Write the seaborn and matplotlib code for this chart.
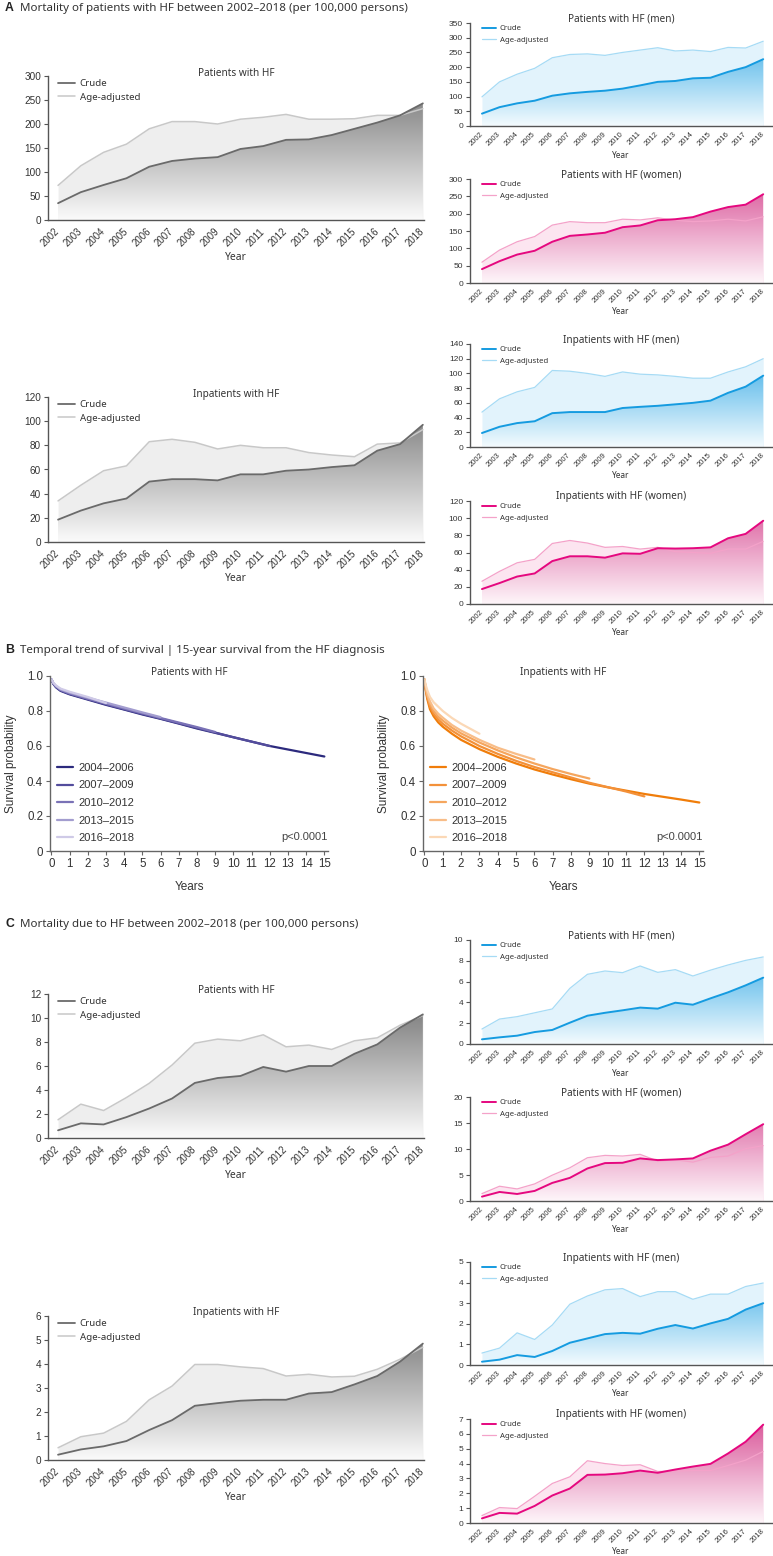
import numpy as np
import pandas as pd
import matplotlib
matplotlib.use("Agg")
import matplotlib.pyplot as plt
import seaborn as sns
from matplotlib.colors import LinearSegmentedColormap
from matplotlib.transforms import offset_copy

# ---------------- DATA ----------------
years = list(range(2002, 2019))
year_labels = [str(y) for y in years]

# A: mortality of patients with HF (per 100,000)
a_pat_crude = [35, 58, 73, 87, 111, 123, 128, 131, 148, 154, 167, 168, 177, 190, 203, 218, 243]
a_pat_adj = [72, 113, 141, 158, 190, 205, 205, 200, 210, 214, 220, 210, 210, 211, 218, 218, 232]
a_pat_men_crude = [42, 64, 77, 86, 103, 111, 116, 120, 127, 138, 150, 153, 162, 164, 184, 200, 227]
a_pat_men_adj = [99, 150, 176, 196, 232, 243, 245, 240, 250, 258, 266, 255, 258, 253, 267, 265, 288]
a_pat_women_crude = [40, 63, 82, 93, 119, 136, 140, 145, 161, 166, 181, 184, 190, 206, 219, 226, 256]
a_pat_women_adj = [60, 95, 119, 134, 167, 177, 174, 174, 184, 182, 188, 181, 177, 179, 184, 179, 191]
a_inp_crude = [18.5, 26, 32, 36, 50, 52, 52, 51, 56, 56, 59, 60, 62, 63.5, 75.6, 81, 97]
a_inp_adj = [34, 47, 59, 63, 83, 85, 82.5, 77, 80, 78, 78, 74, 72, 70.6, 81, 82, 93]
a_inp_men_crude = [19, 27.5, 32.5, 35, 46, 47.5, 47.5, 47.5, 53, 54.6, 56, 58, 60, 63, 73.6, 82, 97]
a_inp_men_adj = [47.4, 65.5, 75, 81, 104, 103, 100, 96, 102, 99, 98, 96, 93.5, 93.5, 102, 109, 120]
a_inp_women_crude = [17.4, 24.4, 32, 35.6, 50, 55.6, 55.6, 54, 59, 58.5, 65, 64.6, 65, 66, 76.6, 81.7, 97]
a_inp_women_adj = [26.5, 38, 48, 52, 70.5, 74, 71, 66, 67, 64, 66, 61, 60, 59, 64, 64, 73]

# C: mortality due to HF (per 100,000)
c_pat_crude = [0.64, 1.22, 1.13, 1.74, 2.46, 3.29, 4.59, 5.0, 5.17, 5.92, 5.53, 6.0, 6.0, 7.02, 7.8, 9.2, 10.3]
c_pat_adj = [1.52, 2.82, 2.29, 3.37, 4.56, 6.08, 7.9, 8.24, 8.1, 8.6, 7.6, 7.74, 7.38, 8.1, 8.35, 9.4, 10.2]
c_pat_men_crude = [0.45, 0.64, 0.8, 1.15, 1.35, 2.05, 2.72, 3.0, 3.24, 3.5, 3.4, 3.97, 3.78, 4.39, 4.97, 5.64, 6.38]
c_pat_men_adj = [1.44, 2.4, 2.63, 3.0, 3.37, 5.35, 6.7, 7.02, 6.86, 7.5, 6.89, 7.15, 6.54, 7.1, 7.6, 8.04, 8.37]
c_pat_women_crude = [0.84, 1.74, 1.35, 1.94, 3.48, 4.45, 6.26, 7.29, 7.35, 8.19, 7.87, 8.0, 8.19, 9.68, 10.84, 12.84, 14.77]
c_pat_women_adj = [1.42, 2.84, 2.32, 3.29, 4.97, 6.39, 8.32, 8.77, 8.65, 8.97, 7.68, 7.94, 7.48, 8.39, 8.65, 10.06, 10.65]
c_inp_crude = [0.22, 0.44, 0.57, 0.79, 1.25, 1.66, 2.26, 2.37, 2.47, 2.51, 2.51, 2.77, 2.83, 3.15, 3.5, 4.1, 4.85]
c_inp_adj = [0.51, 0.97, 1.12, 1.61, 2.51, 3.08, 3.98, 3.98, 3.88, 3.81, 3.5, 3.57, 3.46, 3.49, 3.78, 4.2, 4.7]
c_inp_men_crude = [0.16, 0.26, 0.48, 0.39, 0.68, 1.08, 1.29, 1.5, 1.56, 1.52, 1.76, 1.94, 1.77, 2.02, 2.24, 2.69, 3.0]
c_inp_men_adj = [0.58, 0.82, 1.56, 1.24, 1.94, 2.95, 3.35, 3.65, 3.71, 3.32, 3.56, 3.56, 3.19, 3.44, 3.44, 3.81, 3.98]
c_inp_women_crude = [0.31, 0.68, 0.63, 1.15, 1.85, 2.32, 3.24, 3.26, 3.35, 3.53, 3.38, 3.6, 3.8, 3.98, 4.68, 5.47, 6.62]
c_inp_women_adj = [0.5, 1.04, 0.97, 1.8, 2.66, 3.11, 4.19, 4.0, 3.87, 3.92, 3.47, 3.49, 3.53, 3.53, 3.87, 4.23, 4.82]

# B: survival curves (time in years, survival probability)
periods = ["2004\u20132006", "2007\u20132009", "2010\u20132012", "2013\u20132015", "2016\u20132018"]
km_t_pat = [0, 0.1, 0.25, 0.5, 1, 2, 3, 4, 5, 6, 7, 8, 9, 10, 11, 12, 13, 14, 15]
km_pat = [
    [0.98, 0.955, 0.935, 0.915, 0.895, 0.865, 0.835, 0.808, 0.78, 0.755, 0.728, 0.70, 0.675, 0.65, 0.625, 0.60, 0.58, 0.56, 0.54],
    [0.98, 0.957, 0.938, 0.918, 0.898, 0.868, 0.838, 0.81, 0.783, 0.757, 0.73, 0.703, 0.677, 0.65, 0.625, 0.60],
    [0.98, 0.958, 0.94, 0.92, 0.90, 0.87, 0.842, 0.814, 0.787, 0.76, 0.734, 0.708, 0.68],
    [0.98, 0.96, 0.943, 0.924, 0.905, 0.876, 0.848, 0.82, 0.792, 0.765],
    [0.98, 0.962, 0.946, 0.928, 0.91, 0.88, 0.845],
]
km_t_inp = [0, 0.05, 0.15, 0.3, 0.5, 0.75, 1, 1.5, 2, 3, 4, 5, 6, 7, 8, 9, 10, 11, 12, 13, 14, 15]
km_inp = [
    [0.98, 0.93, 0.87, 0.81, 0.77, 0.735, 0.71, 0.67, 0.635, 0.582, 0.538, 0.50, 0.466, 0.437, 0.41, 0.385, 0.364, 0.345, 0.326, 0.31, 0.294, 0.277],
    [0.98, 0.935, 0.88, 0.825, 0.785, 0.752, 0.727, 0.688, 0.655, 0.60, 0.555, 0.515, 0.48, 0.45, 0.42, 0.39, 0.365, 0.34, 0.312],
    [0.98, 0.94, 0.89, 0.84, 0.80, 0.768, 0.745, 0.705, 0.672, 0.62, 0.575, 0.535, 0.50, 0.468, 0.44, 0.414],
    [0.98, 0.945, 0.90, 0.855, 0.815, 0.785, 0.762, 0.72, 0.688, 0.635, 0.59, 0.555, 0.523],
    [0.98, 0.955, 0.92, 0.88, 0.85, 0.825, 0.80, 0.76, 0.727, 0.67],
]

# ---------------- STYLE ----------------
sns.set_theme(style="ticks")
plt.rcParams["font.family"] = ["Noto Sans", "DejaVu Sans"]
TICKFONT = ["Liberation Sans", "DejaVu Sans"]

W, H = 773, 1556
fig = plt.figure(figsize=(W / 100, H / 100), dpi=100)


def box(x0, x1, y0, y1):
    return [x0 / W, 1 - y1 / H, (x1 - x0) / W, (y1 - y0) / H]


schemes = {
    "grey": dict(crude="#6a6a6a", adj="#c8c8c8", adj_fill="#eeeeee", g0="#fbfbfb", g1="#707070"),
    "blue": dict(crude="#159be0", adj="#a6dbf5", adj_fill="#e2f3fc", g0="#f4fbfe", g1="#2aa5e4"),
    "pink": dict(crude="#e5087f", adj="#f4a2c9", adj_fill="#fce5f0", g0="#fef6fa", g1="#d95598"),
}


def area_panel(pos, crude, adj, scheme, ymax, ystep, title, big):
    ax = fig.add_axes(box(*pos))
    sc = schemes[scheme]
    ax.fill_between(years, 0, adj, color=sc["adj_fill"], lw=0, zorder=1)
    poly = ax.fill_between(years, 0, crude, facecolor="none", lw=0, zorder=2)
    cmap = LinearSegmentedColormap.from_list("g", [sc["g0"], sc["g1"]])
    im = ax.imshow(np.linspace(0, 1, 256).reshape(-1, 1), cmap=cmap, origin="lower",
                   aspect="auto", extent=[years[0], years[-1], 0, ymax], zorder=2,
                   interpolation="bilinear")
    im.set_clip_path(poly.get_paths()[0], transform=ax.transData)
    lw_c, lw_a = (1.3, 1.1) if big else (1.4, 0.9)
    sns.lineplot(x=years, y=crude, color=sc["crude"], lw=lw_c, label="Crude", ax=ax, zorder=4)
    sns.lineplot(x=years, y=adj, color=sc["adj"], lw=lw_a, label="Age-adjusted", ax=ax, zorder=3)
    if big:
        ax.set_xlim(2001.56, 2018.05)
        fs_t, fs_tick, fs_x, fs_leg, fs_lab = 7.2, 7.2, 6.9, 7.0, 7.4
        top_gap, ylab_off = 3, 37
        leg_anchor = (10 / 376, 1 - 3 / 144)
        hl, hp, ls = 1.75, 0.5, 0.5
        xpad = 7
    else:
        ax.set_xlim(2001.32, 2018.5)
        fs_t, fs_tick, fs_x, fs_leg, fs_lab = 7.2, 6.0, 5.5, 5.6, 5.9
        top_gap, ylab_off = 4, 29
        leg_anchor = (12 / 302, 1 - 2 / 103)
        hl, hp, ls = 1.8, 0.45, 0.55
        xpad = 5
    ax.set_ylim(0, ymax)
    ax.set_yticks(np.arange(0, ymax + ystep / 2, ystep))
    ax.set_yticklabels([f"{v:g}" for v in np.arange(0, ymax + ystep / 2, ystep)],
                       fontsize=fs_tick, family=TICKFONT, color="#333333")
    ax.set_xticks(years)
    ax.set_xticklabels(year_labels, rotation=45, ha="right", va="center",
                       rotation_mode="anchor", fontsize=fs_x, family=TICKFONT, color="#333333")
    ax.tick_params(axis="x", length=0, pad=xpad)
    ax.tick_params(axis="y", length=3, width=0.8, color="#555555", pad=2)
    for s in ["top", "right"]:
        ax.spines[s].set_visible(False)
    for s in ["left", "bottom"]:
        ax.spines[s].set_color("#555555")
        ax.spines[s].set_linewidth(1.0)
    ax.set_xlabel("")
    ax.set_ylabel("")
    ax.text(0.5, 0, "Year", transform=offset_copy(ax.transAxes, fig=fig, y=-ylab_off, units="dots"),
            ha="center", va="center", fontsize=fs_lab, color="#333333")
    ax.text(0.5, 1, title, transform=offset_copy(ax.transAxes, fig=fig, y=top_gap, units="dots"),
            ha="center", va="center", fontsize=fs_t, color="#333333")
    leg = ax.legend(loc="upper left", bbox_to_anchor=leg_anchor, borderaxespad=0, borderpad=0,
                    frameon=False, fontsize=fs_leg, handlelength=hl, handletextpad=hp,
                    labelspacing=ls)
    for t in leg.get_texts():
        t.set_color("#333333")
    return ax


LX, RX = (48, 424), (470, 772)

# Section A
area_panel((*LX, 76, 220), a_pat_crude, a_pat_adj, "grey", 300, 50, "Patients with HF", True)
area_panel((*RX, 23, 126), a_pat_men_crude, a_pat_men_adj, "blue", 350, 50, "Patients with HF (men)", False)
area_panel((*RX, 179, 283), a_pat_women_crude, a_pat_women_adj, "pink", 300, 50, "Patients with HF (women)", False)
area_panel((*LX, 397, 542), a_inp_crude, a_inp_adj, "grey", 120, 20, "Inpatients with HF", True)
area_panel((*RX, 344, 447), a_inp_men_crude, a_inp_men_adj, "blue", 140, 20, "Inpatients with HF (men)", False)
area_panel((*RX, 501, 604), a_inp_women_crude, a_inp_women_adj, "pink", 120, 20, "Inpatients with HF (women)", False)

# Section C
area_panel((*LX, 994, 1138), c_pat_crude, c_pat_adj, "grey", 12, 2, "Patients with HF", True)
area_panel((*RX, 940, 1044), c_pat_men_crude, c_pat_men_adj, "blue", 10, 2, "Patients with HF (men)", False)
area_panel((*RX, 1097, 1201), c_pat_women_crude, c_pat_women_adj, "pink", 20, 5, "Patients with HF (women)", False)
area_panel((*LX, 1316, 1460), c_inp_crude, c_inp_adj, "grey", 6, 1, "Inpatients with HF", True)
area_panel((*RX, 1262, 1365), c_inp_men_crude, c_inp_men_adj, "blue", 5, 1, "Inpatients with HF (men)", False)
area_panel((*RX, 1419, 1523), c_inp_women_crude, c_inp_women_adj, "pink", 7, 1, "Inpatients with HF (women)", False)

# Section B
km_colors_pat = ["#2c2a7d", "#534c9c", "#7a72b6", "#a39dcf", "#cfcae7"]
km_colors_inp = ["#f07d0a", "#f3913a", "#f5a65e", "#f8bd88", "#fbd8b6"]


def km_panel(pos, t, curves, colors, title):
    ax = fig.add_axes(box(*pos))
    for lab, s, c in zip(periods, curves, colors):
        sns.lineplot(x=t[:len(s)], y=s, color=c, lw=1.6, label=lab, ax=ax)
    ax.set_xlim(-0.08, 15.2)
    ax.set_ylim(0, 1.0)
    ax.set_xticks(range(0, 16))
    ax.set_xticklabels([str(i) for i in range(16)], fontsize=8.3, family=TICKFONT, color="#333333")
    ax.set_yticks([0, 0.2, 0.4, 0.6, 0.8, 1.0])
    ax.set_yticklabels(["0", "0.2", "0.4", "0.6", "0.8", "1.0"], fontsize=8.3, family=TICKFONT, color="#333333")
    ax.tick_params(length=3, width=0.8, color="#666666", pad=2)
    for s in ["top", "right"]:
        ax.spines[s].set_visible(False)
    for s in ["left", "bottom"]:
        ax.spines[s].set_color("#666666")
        ax.spines[s].set_linewidth(1.0)
    ax.set_xlabel("Years", fontsize=8.5, family=TICKFONT, color="#333333", labelpad=8)
    ax.set_ylabel("Survival probability", fontsize=8.5, family=TICKFONT, color="#333333", labelpad=7)
    ax.text(0.5, 1, title, transform=offset_copy(ax.transAxes, fig=fig, y=3, units="dots"),
            ha="center", va="center", fontsize=7.2, color="#333333")
    ax.text(1.0, 0.08, "p<0.0001", transform=ax.transAxes, ha="right", va="center",
            fontsize=8, family=TICKFONT, color="#444444")
    leg = ax.legend(loc="lower left", bbox_to_anchor=(0.025, 0.045), borderaxespad=0, borderpad=0,
                    frameon=False, handlelength=1.4, handletextpad=0.5, labelspacing=0.68,
                    prop={"family": TICKFONT, "size": 8})
    for tx in leg.get_texts():
        tx.set_color("#333333")
    return ax


km_panel((50, 328, 676, 851), km_t_pat, km_pat, km_colors_pat, "Patients with HF")
km_panel((423, 703, 676, 851), km_t_inp, km_inp, km_colors_inp, "Inpatients with HF")


# Section headings
def heading(y, letter, text):
    fig.text(5 / W, 1 - y / H, letter, fontsize=8.8, fontweight="bold", family=TICKFONT,
             va="center", ha="left", color="#222222")
    fig.text(20 / W, 1 - y / H, text, fontsize=8.3, va="center", ha="left", color="#333333")


heading(8, "A", "Mortality of patients with HF between 2002\u20132018 (per 100,000 persons)")
heading(650, "B", "Temporal trend of survival | 15-year survival from the HF diagnosis")
heading(924, "C", "Mortality due to HF between 2002\u20132018 (per 100,000 persons)")

fig.savefig("out.png", dpi=100)
